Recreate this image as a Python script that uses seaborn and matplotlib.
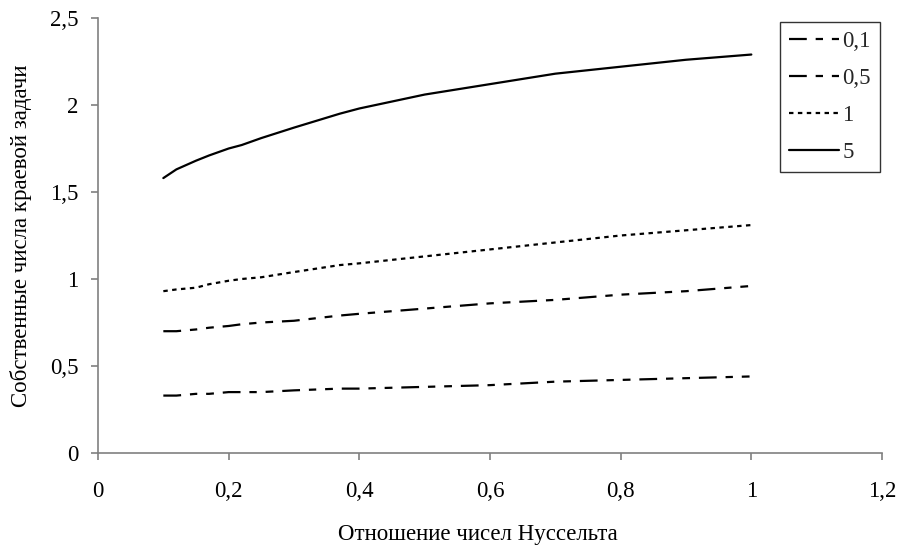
import matplotlib
matplotlib.use("Agg")
import matplotlib.pyplot as plt
import seaborn as sns
import pandas as pd
from matplotlib.ticker import FuncFormatter, MultipleLocator

x_vals = [0.1, 0.12, 0.15, 0.17, 0.2, 0.22, 0.25, 0.3, 0.37, 0.4, 0.5, 0.6, 0.7, 0.8, 0.9, 1.0]
y_01 = [0.33, 0.33, 0.34, 0.34, 0.35, 0.35, 0.35, 0.36, 0.37, 0.37, 0.38, 0.39, 0.41, 0.42, 0.43, 0.44]
y_05 = [0.70, 0.70, 0.71, 0.72, 0.73, 0.74, 0.75, 0.76, 0.79, 0.80, 0.83, 0.86, 0.88, 0.91, 0.93, 0.96]
y_1 = [0.93, 0.94, 0.95, 0.97, 0.99, 1.00, 1.01, 1.04, 1.08, 1.09, 1.13, 1.17, 1.21, 1.25, 1.28, 1.31]
y_5 = [1.58, 1.63, 1.68, 1.71, 1.75, 1.77, 1.81, 1.87, 1.95, 1.98, 2.06, 2.12, 2.18, 2.22, 2.26, 2.29]
series_labels = ["0,1", "0,5", "1", "5"]

sns.set_theme(style="white")
plt.rcParams["font.family"] = ["Liberation Serif", "DejaVu Serif"]

frames = []
for lab, ys in zip(series_labels, [y_01, y_05, y_1, y_5]):
    frames.append(pd.DataFrame({"x": x_vals, "y": ys, "s": lab}))
df = pd.concat(frames, ignore_index=True)

fig = plt.figure(figsize=(9, 5.51), dpi=100)
ax = fig.add_axes([98/900, 1-453/551, (882-98)/900, (453-18)/551])

FS = 16.5
dash_map = {"0,1": (8, 4, 3.3, 4, 3.5, 4), "0,5": (8, 4, 3.3, 4, 3.5, 4), "1": (2, 2), "5": ""}
sns.lineplot(data=df, x="x", y="y", hue="s", style="s",
             palette={k: "black" for k in series_labels},
             dashes=dash_map, linewidth=1.6, ax=ax, legend=True)

ax.set_xlim(0, 1.2)
ax.set_ylim(0, 2.5)
ax.xaxis.set_major_locator(MultipleLocator(0.2))
ax.yaxis.set_major_locator(MultipleLocator(0.5))
fmt = FuncFormatter(lambda v, p: ("%g" % round(v, 2)).replace(".", ","))
ax.xaxis.set_major_formatter(fmt)
ax.yaxis.set_major_formatter(fmt)

for side in ["top", "right"]:
    ax.spines[side].set_visible(False)
for side in ["left", "bottom"]:
    ax.spines[side].set_color("#808080")
    ax.spines[side].set_linewidth(1.2)
ax.tick_params(axis="both", which="major", direction="out", length=5, width=1.2,
               color="#808080", labelsize=FS, labelcolor="black", bottom=True, left=True)
ax.tick_params(axis="x", pad=15)
ax.tick_params(axis="y", pad=9)

ax.set_xlabel("Отношение чисел Нуссельта", fontsize=FS, color="black")
ax.set_ylabel("Собственные числа краевой задачи", fontsize=FS, color="black")
ax.xaxis.set_label_coords((478 - 98) / 784, (453 - 524) / 435)
ax.yaxis.set_label_coords((32 - 98) / 784, 0.5)

handles, labels = ax.get_legend_handles_labels()
leg = ax.legend(handles, labels, loc="upper right",
                bbox_to_anchor=((880 - 98) / 784, (453 - 22) / 435), borderaxespad=0,
                fontsize=FS, frameon=True, fancybox=False, edgecolor="black",
                handlelength=2.18, borderpad=0.4, labelspacing=0.69, handletextpad=0.15)
leg.get_frame().set_linewidth(1.0)

fig.savefig("out.png", dpi=100)
